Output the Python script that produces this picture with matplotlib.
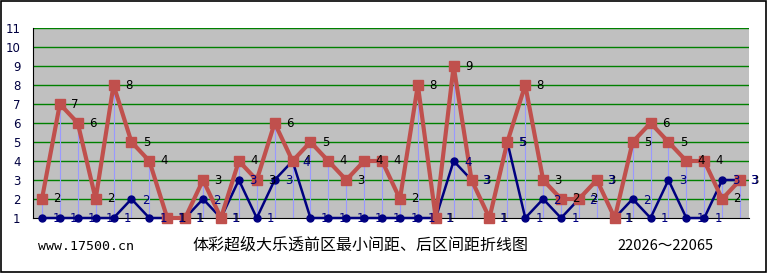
import matplotlib
matplotlib.use('Agg')
import matplotlib.pyplot as plt

# issues 22026 .. 22065
issues = list(range(22026, 22066))
front_min_gap = [1, 1, 1, 1, 1, 2, 1, 1, 1, 2,
                 1, 3, 1, 3, 4, 1, 1, 1, 1, 1,
                 1, 1, 1, 4, 3, 1, 5, 1, 2, 1,
                 2, 3, 1, 2, 1, 3, 1, 1, 3, 3]
back_gap = [2, 7, 6, 2, 8, 5, 4, 1, 1, 3,
            1, 4, 3, 6, 4, 5, 4, 3, 4, 4,
            2, 8, 1, 9, 3, 1, 5, 8, 3, 2,
            2, 3, 1, 5, 6, 5, 4, 4, 2, 3]
y_ticks = list(range(1, 12))

TITLE = '体彩超级大乐透前区最小间距、后区间距折线图'
SITE = 'www.17500.cn'
RANGE_TEXT = '22026～22065'

RED = '#C0504D'
NAVY = '#000080'
FONTS = ['Noto Sans CJK SC', 'DejaVu Sans']

plt.rcParams['font.family'] = FONTS

fig = plt.figure(figsize=(7.67, 2.73), dpi=100)
ax = fig.add_axes([33 / 767, 55 / 273, 716 / 767, 190 / 273])
ax.set_facecolor('#C0C0C0')

x = list(range(len(issues)))

ax.set_xlim(-0.5, len(issues) - 0.5)
ax.set_ylim(1, 11)
ax.set_yticks(y_ticks)
ax.set_yticklabels([str(v) for v in y_ticks], color='#000040', fontsize=8.5,
                   family='DejaVu Sans')
ax.tick_params(axis='y', length=0, pad=9)
ax.set_xticks([])
for v in y_ticks[1:]:
    ax.axhline(v, color='#008000', linewidth=1.0, zorder=1)

ax.spines['top'].set_visible(False)
ax.spines['right'].set_visible(False)
ax.spines['left'].set_color('black')
ax.spines['bottom'].set_color('black')

# drop lines
tops = [max(a, b) for a, b in zip(front_min_gap, back_gap)]
ax.vlines(x, 1, tops, color='#9999FF', linewidth=0.8, zorder=2)

ax.plot(x, front_min_gap, color=NAVY, linewidth=1.8, marker='o',
        markersize=5, zorder=3, clip_on=False)
ax.plot(x, back_gap, color=RED, linewidth=3, marker='s',
        markersize=7.5, zorder=4, clip_on=False)

for i, v in enumerate(back_gap):
    ax.annotate(str(v), (i, v), xytext=(15, 0), textcoords='offset pixels',
                ha='center', va='center', fontsize=8.5, color='black',
                family='DejaVu Sans', zorder=6)
for i, v in enumerate(front_min_gap):
    ax.annotate(str(v), (i, v), xytext=(14, -1), textcoords='offset pixels',
                ha='center', va='center', fontsize=8.5, color=NAVY,
                family='DejaVu Sans', zorder=6)

fig.text(38 / 767, 1 - 246 / 273, SITE, fontsize=9.5, va='center', ha='left',
         family='DejaVu Sans Mono')
fig.text(360 / 767, 1 - 245 / 273, TITLE, fontsize=11.5, va='center',
         ha='center')
fig.text(665 / 767, 1 - 246 / 273, RANGE_TEXT, fontsize=10.5, va='center',
         ha='center')

# outer frame
fig.patches.append(plt.Rectangle((0.001, 0.002), 0.998, 0.996,
                                 transform=fig.transFigure, fill=False,
                                 edgecolor='black', linewidth=1.2))

fig.savefig('out.png', dpi=100)
plt.close()
